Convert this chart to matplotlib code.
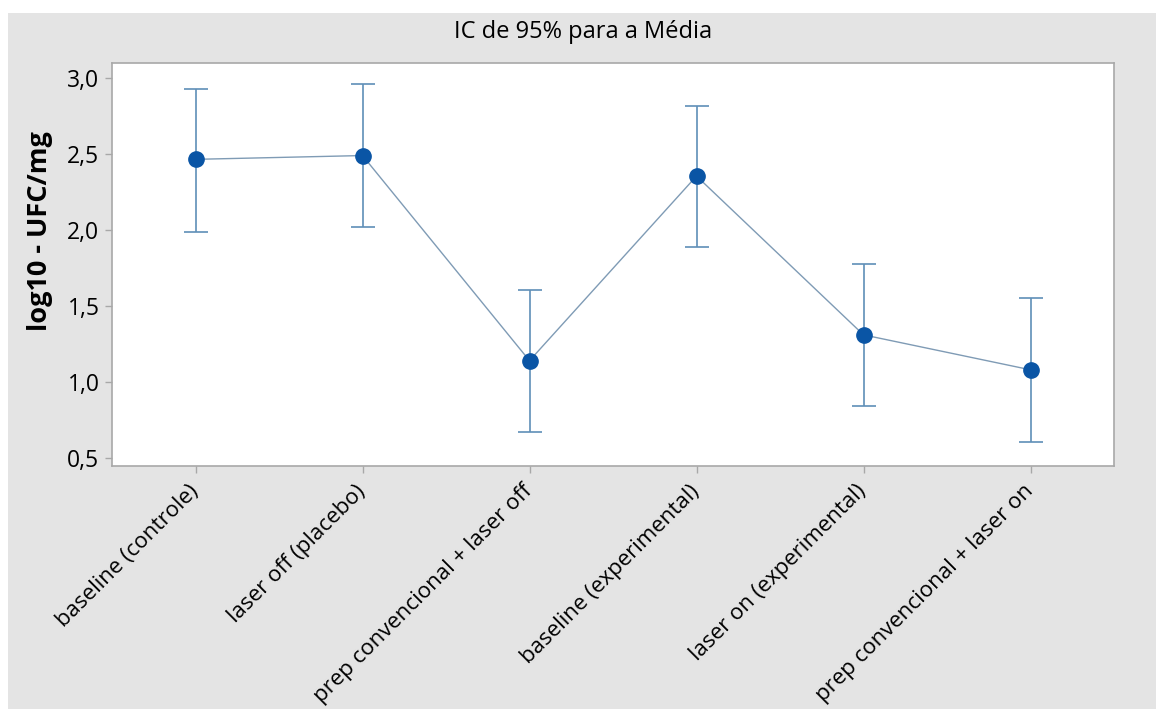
import matplotlib.pyplot as plt
from matplotlib.patches import Rectangle
from matplotlib.ticker import FuncFormatter

plt.rcParams['font.family'] = ['Open Sans', 'DejaVu Sans']

groups = ['baseline (controle)', 'laser off (placebo)', 'prep convencional + laser off',
          'baseline (experimental)', 'laser on (experimental)', 'prep convencional + laser on']
means = [2.465, 2.49, 1.14, 2.355, 1.31, 1.08]
upper = [2.93, 2.96, 1.605, 2.815, 1.775, 1.55]
lower = [1.99, 2.02, 0.67, 1.885, 0.84, 0.605]

bg = '#e4e4e4'
fig = plt.figure(figsize=(11.56, 7.09), dpi=100, facecolor='white')
fig.patches.append(Rectangle((8 / 1156, 0), 1, 1 - 13 / 709, transform=fig.transFigure,
                             facecolor=bg, edgecolor='none', zorder=-10))

ax = fig.add_axes([112 / 1156, 1 - 466 / 709, 1002 / 1156, 403 / 709])
ax.set_facecolor('white')

xs = list(range(len(groups)))
err_lo = [m - l for m, l in zip(means, lower)]
err_hi = [u - m for m, u in zip(means, upper)]

ax.errorbar(xs, means, yerr=[err_lo, err_hi], fmt='none', ecolor='#5f8fb8',
            elinewidth=1.2, capsize=8.5, capthick=1.2, zorder=2)
ax.plot(xs, means, color='#7f9bb5', lw=1.0, zorder=3)
ax.plot(xs, means, 'o', color='#0a55a5', markersize=11, zorder=4)

ax.set_xlim(-0.5, 5.5)
ax.set_ylim(0.447, 3.099)
ax.set_yticks([0.5, 1.0, 1.5, 2.0, 2.5, 3.0])
ax.yaxis.set_major_formatter(FuncFormatter(lambda v, p: f'{v:.1f}'.replace('.', ',')))
ax.set_xticks(xs)
ax.set_xticklabels(groups, rotation=45, ha='right', va='center', rotation_mode='anchor')

for s in ax.spines.values():
    s.set_color('#a8a8a8')
    s.set_linewidth(1.2)
ax.tick_params(axis='both', colors='#a8a8a8', length=5, width=1, labelcolor='black')
ax.tick_params(axis='y', labelsize=16.5, pad=4)
ax.tick_params(axis='x', labelsize=16, pad=11)

fig.text(40 / 1156, 1 - 231 / 709, 'log10 - UFC/mg', rotation=90, ha='center', va='center',
         fontsize=19.5, fontweight='bold')
fig.text(583 / 1156, 1 - 32 / 709, 'IC de 95% para a Média', ha='center', va='center', fontsize=17)

fig.savefig('out.png', dpi=100, facecolor=fig.get_facecolor())
